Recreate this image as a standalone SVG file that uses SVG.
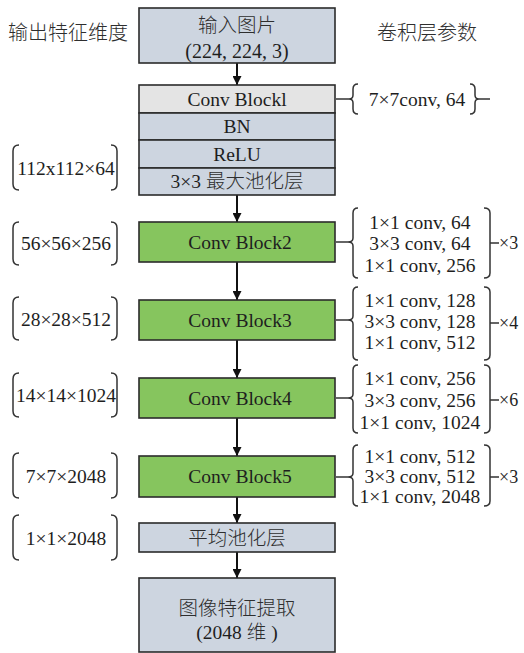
<svg xmlns="http://www.w3.org/2000/svg" width="524" height="653" viewBox="0 0 524 653">
  <style>
    text { font-family: "Liberation Serif", "Noto Sans CJK SC", serif; font-size: 19.5px; fill: #1e1e1e; }
    .c { text-anchor: middle; }
    .hdr { font-size: 20px; }
    .zh { font-weight: 300; fill: #2e2e2e; }
    .small { font-size: 18px; }
    .box { stroke: #2b2b2b; stroke-width: 1.6; }
    .blue { fill: #cdd5e0; }
    .grey { fill: #e4e4e4; }
    .green { fill: #86c55e; }
    .br { fill: none; stroke: #333; stroke-width: 1.5; }
    .conn { stroke: #111; stroke-width: 2; fill: none; }
  </style>
  <defs>
    <marker id="ah" viewBox="0 0 10 10" refX="10" refY="5" markerWidth="4.5" markerHeight="4.5" orient="auto">
      <path d="M0,0 L10,5 L0,10 z" fill="#111"/>
    </marker>
  </defs>
  <rect width="524" height="653" fill="#fff"/>

  <!-- column headers -->
  <text class="hdr zh" x="8" y="40">输出特征维度</text>
  <text class="hdr zh" x="377" y="40">卷积层参数</text>

  <!-- connectors -->
  <g id="connectors">
    <line class="conn" x1="237" y1="63" x2="237" y2="85" marker-end="url(#ah)"/>
    <line class="conn" x1="237" y1="195" x2="237" y2="222" marker-end="url(#ah)"/>
    <line class="conn" x1="237" y1="262" x2="237" y2="300" marker-end="url(#ah)"/>
    <line class="conn" x1="237" y1="340" x2="237" y2="378" marker-end="url(#ah)"/>
    <line class="conn" x1="237" y1="418" x2="237" y2="456" marker-end="url(#ah)"/>
    <line class="conn" x1="237" y1="497" x2="237" y2="523" marker-end="url(#ah)"/>
    <line class="conn" x1="237" y1="552" x2="237" y2="578" marker-end="url(#ah)"/>
  </g>

  <!-- main column -->
  <g id="input">
    <rect class="box blue" x="139" y="8" width="196" height="55"/>
    <text class="c zh" x="237" y="32">输入图片</text>
    <text class="c hdr" x="237" y="58">(224, 224, 3)</text>
  </g>
  <g id="block1">
    <rect class="box grey" x="139" y="85" width="196" height="28"/>
    <text class="c" x="237" y="106">Conv Blockl</text>
    <rect class="box blue" x="139" y="113" width="196" height="27"/>
    <text class="c" x="237" y="133">BN</text>
    <rect class="box blue" x="139" y="140" width="196" height="28"/>
    <text class="c" x="237" y="161">ReLU</text>
    <rect class="box blue" x="139" y="168" width="196" height="27"/>
    <text class="c" x="237" y="188">3×3 <tspan class="zh">最大池化层</tspan></text>
  </g>
  <g id="block2">
    <rect class="box green" x="139" y="222" width="196" height="40"/>
    <text class="c" x="240" y="249">Conv Block2</text>
  </g>
  <g id="block3">
    <rect class="box green" x="139" y="300" width="196" height="40"/>
    <text class="c" x="240" y="327">Conv Block3</text>
  </g>
  <g id="block4">
    <rect class="box green" x="139" y="378" width="196" height="40"/>
    <text class="c" x="240" y="405">Conv Block4</text>
  </g>
  <g id="block5">
    <rect class="box green" x="139" y="456" width="196" height="41"/>
    <text class="c" x="240" y="483">Conv Block5</text>
  </g>
  <g id="avgpool">
    <rect class="box blue" x="139" y="523" width="196" height="29"/>
    <text class="c zh" x="237" y="545">平均池化层</text>
  </g>
  <g id="output">
    <rect class="box blue" x="139" y="578" width="196" height="74"/>
    <text class="c zh" x="237" y="615">图像特征提取</text>
    <text class="c" x="237" y="639">(2048 <tspan class="zh">维</tspan> )</text>
  </g>

  <!-- output dimensions (left) -->
  <g id="dim1">
    <path class="br" d="M19,145 Q13,145 13,151 V184 Q13,190 19,190 M111,145 Q117,145 117,151 V184 Q117,190 111,190"/>
    <text class="c" x="66" y="175">112x112×64</text>
  </g>
  <g id="dim2">
    <path class="br" d="M19,222 Q13,222 13,228 V259 Q13,265 19,265 M111,222 Q117,222 117,228 V259 Q117,265 111,265"/>
    <text class="c" x="66" y="250">56×56×256</text>
  </g>
  <g id="dim3">
    <path class="br" d="M19,297 Q13,297 13,303 V334 Q13,340 19,340 M111,297 Q117,297 117,303 V334 Q117,340 111,340"/>
    <text class="c" x="66" y="326">28×28×512</text>
  </g>
  <g id="dim4">
    <path class="br" d="M19,373 Q13,373 13,379 V411 Q13,417 19,417 M111,373 Q117,373 117,379 V411 Q117,417 111,417"/>
    <text class="c" x="66" y="402">14×14×1024</text>
  </g>
  <g id="dim5">
    <path class="br" d="M19,453 Q13,453 13,459 V492 Q13,498 19,498 M111,453 Q117,453 117,459 V492 Q117,498 111,498"/>
    <text class="c" x="66" y="483">7×7×2048</text>
  </g>
  <g id="dim6">
    <path class="br" d="M19,515 Q13,515 13,521 V554 Q13,560 19,560 M111,515 Q117,515 117,521 V554 Q117,560 111,560"/>
    <text class="c" x="66" y="545">1×1×2048</text>
  </g>

  <!-- convolution parameters (right) -->
  <g id="param1">
    <path class="br" d="M336,99 H349 M358,84 Q353,84 353,89 V95 Q353,99 349,99 Q353,99 353,103 V109 Q353,114 358,114"/>
    <path class="br" d="M470,84 Q475,84 475,89 V95 Q475,99 479,99 Q475,99 475,103 V109 Q475,114 470,114 M479,99 H490"/>
    <text class="c" x="417" y="106">7×7conv, 64</text>
  </g>
  <g id="param2">
    <path class="br" d="M336,242 H348 M358,208 Q353,208 353,213 V238 Q353,242 348,242 Q353,242 353,246 V273 Q353,278 358,278"/>
    <path class="br" d="M484,208 Q490,208 490,213 V273 Q490,278 484,278 M490,243 H499"/>
    <text class="c" x="420" y="229">1×1 conv, 64</text>
    <text class="c" x="420" y="250">3×3 conv, 64</text>
    <text class="c" x="420" y="272">1×1 conv, 256</text>
    <text class="small" x="499" y="249">×3</text>
  </g>
  <g id="param3">
    <path class="br" d="M336,320 H348 M358,287 Q353,287 353,292 V316 Q353,320 348,320 Q353,320 353,324 V355 Q353,360 358,360"/>
    <path class="br" d="M484,287 Q490,287 490,292 V355 Q490,360 484,360 M490,323 H499"/>
    <text class="c" x="420" y="307">1×1 conv, 128</text>
    <text class="c" x="420" y="328">3×3 conv, 128</text>
    <text class="c" x="420" y="349">1×1 conv, 512</text>
    <text class="small" x="499" y="329">×4</text>
  </g>
  <g id="param4">
    <path class="br" d="M336,398 H348 M358,365 Q353,365 353,370 V394 Q353,398 348,398 Q353,398 353,402 V428 Q353,433 358,433"/>
    <path class="br" d="M484,365 Q490,365 490,370 V428 Q490,433 484,433 M490,400 H499"/>
    <text class="c" x="420" y="385">1×1 conv, 256</text>
    <text class="c" x="420" y="407">3×3 conv, 256</text>
    <text class="c" x="420" y="429">1×1 conv, 1024</text>
    <text class="small" x="499" y="406">×6</text>
  </g>
  <g id="param5">
    <path class="br" d="M336,477 H348 M358,445 Q353,445 353,450 V473 Q353,477 348,477 Q353,477 353,481 V501 Q353,506 358,506"/>
    <path class="br" d="M484,445 Q490,445 490,450 V501 Q490,506 484,506 M490,477 H499"/>
    <text class="c" x="420" y="463">1×1 conv, 512</text>
    <text class="c" x="420" y="483">3×3 conv, 512</text>
    <text class="c" x="420" y="503">1×1 conv, 2048</text>
    <text class="small" x="499" y="483">×3</text>
  </g>
</svg>
